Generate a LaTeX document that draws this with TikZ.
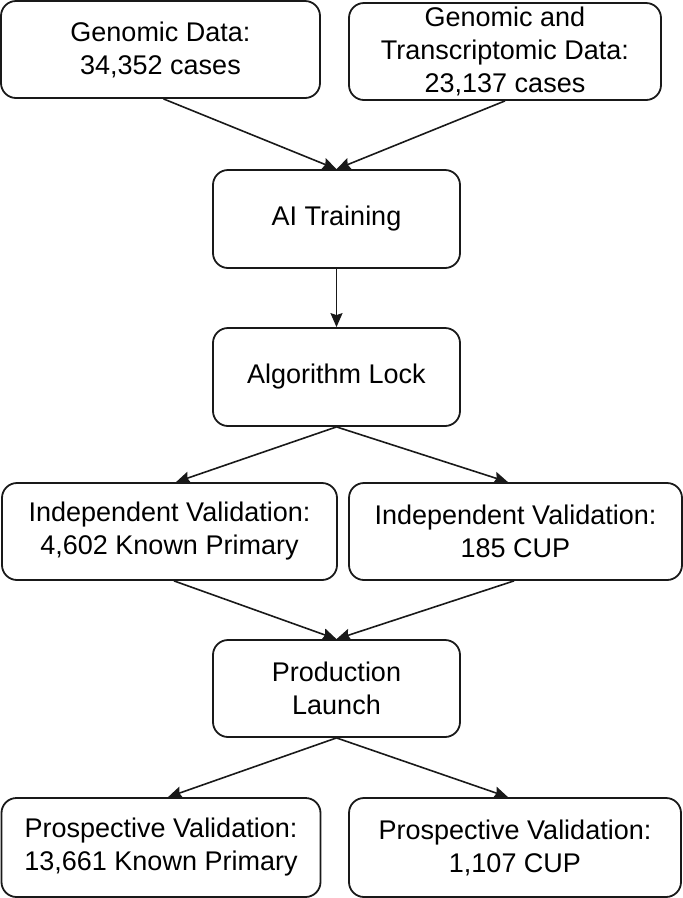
\documentclass[tikz,border=0pt]{standalone}
\usepackage{fontspec}
\setmainfont{Liberation Sans}
\usetikzlibrary{arrows.meta}
\begin{document}
\begin{tikzpicture}[x=1pt,y=-1pt,
  box/.style={draw=black!90, line width=1.8pt, rounded corners=15pt, align=center, inner sep=0pt, font=\fontsize{27}{33}\selectfont, text=black},
  conn/.style={draw=black!90, line width=1.6pt, -{Stealth[length=14pt,width=12pt,inset=2pt]}}]
\useasboundingbox (0,0) rectangle (683,898);
\node[box, minimum width=319pt, minimum height=97pt] (gd) at (160.5,49.5) {Genomic Data:\\34,352 cases};
\node[box, minimum width=312pt, minimum height=97pt] (gt) at (505,51.5) {Genomic and\\Transcriptomic Data:\\23,137 cases};
\node[box, minimum width=247pt, minimum height=98pt] (ai) at (336.5,219) {AI Training};
\node[box, minimum width=247pt, minimum height=98pt] (al) at (336.5,377) {Algorithm Lock};
\node[box, minimum width=335pt, minimum height=97pt] (ivk) at (169.5,531.5) {Independent Validation:\\4,602 Known Primary};
\node[box, minimum width=333pt, minimum height=97pt] (ivc) at (515.5,531.5) {Independent Validation:\\185 CUP};
\node[box, minimum width=247pt, minimum height=97pt] (pl) at (336.5,688.5) {Production\\Launch};
\node[box, minimum width=319pt, minimum height=99pt] (pvk) at (161,847.5) {Prospective Validation:\\13,661 Known Primary};
\node[box, minimum width=332pt, minimum height=99pt] (pvc) at (515,847.5) {Prospective Validation:\\1,107 CUP};

\draw[conn] ([xshift=3pt]gd.south) -- (ai.north);
\draw[conn] (gt.south) -- (ai.north);
\draw[conn] (ai.south) -- (al.north);
\draw[conn] (al.south) -- ([xshift=6.5pt]ivk.north);
\draw[conn] (al.south) -- ([xshift=-7.5pt]ivc.north);
\draw[conn] ([xshift=4.5pt]ivk.south) -- (pl.north);
\draw[conn] ([xshift=-1.5pt]ivc.south) -- (pl.north);
\draw[conn] (pl.south) -- ([xshift=7pt]pvk.north);
\draw[conn] (pl.south) -- ([xshift=-7pt]pvc.north);
\end{tikzpicture}
\end{document}
